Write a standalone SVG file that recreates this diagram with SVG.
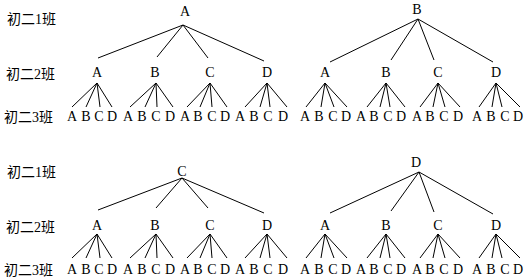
<svg xmlns="http://www.w3.org/2000/svg" width="526" height="279" viewBox="0 0 526 279">
<style>
text{font-family:"Liberation Serif","Noto Sans CJK SC",serif;fill:#000;text-anchor:middle}
.lab{font-size:14px;text-anchor:start}
.n{font-size:14px}
.c line{stroke:#000;stroke-width:1}
</style>
<rect width="526" height="279" fill="#fff"/>
<g id="labels">
<text class="lab" x="7" y="24">初二1班</text>
<text class="lab" x="6" y="79">初二2班</text>
<text class="lab" x="4" y="122">初二3班</text>
<text class="lab" x="7" y="177">初二1班</text>
<text class="lab" x="6" y="232">初二2班</text>
<text class="lab" x="4" y="275">初二3班</text>
</g>
<g class="c" id="connectors">
<line x1="183" y1="25" x2="98" y2="58"/><line x1="183" y1="25" x2="157" y2="57"/><line x1="183" y1="25" x2="208" y2="58"/><line x1="183" y1="25" x2="264" y2="61"/>
<line x1="97" y1="83" x2="72" y2="107"/><line x1="97" y1="83" x2="86" y2="107"/><line x1="97" y1="83" x2="100" y2="107"/><line x1="97" y1="83" x2="112" y2="107"/>
<line x1="156" y1="83" x2="130" y2="107"/><line x1="156" y1="83" x2="145" y2="107"/><line x1="156" y1="83" x2="157" y2="107"/><line x1="156" y1="83" x2="173" y2="107"/>
<line x1="210" y1="83" x2="187" y2="107"/><line x1="210" y1="83" x2="200" y2="107"/><line x1="210" y1="83" x2="212" y2="107"/><line x1="210" y1="83" x2="227" y2="107"/>
<line x1="267" y1="83" x2="245" y2="107"/><line x1="267" y1="83" x2="260" y2="107"/><line x1="267" y1="83" x2="270" y2="107"/><line x1="267" y1="83" x2="287" y2="107"/>
<line x1="418" y1="19" x2="330" y2="62"/><line x1="418" y1="19" x2="391" y2="60"/><line x1="418" y1="19" x2="434" y2="60"/><line x1="418" y1="19" x2="493" y2="62"/>
<line x1="325" y1="83" x2="306" y2="107"/><line x1="325" y1="83" x2="321" y2="107"/><line x1="325" y1="83" x2="334" y2="107"/><line x1="325" y1="83" x2="347" y2="107"/>
<line x1="386" y1="83" x2="367" y2="107"/><line x1="386" y1="83" x2="380" y2="107"/><line x1="386" y1="83" x2="390" y2="107"/><line x1="386" y1="83" x2="405" y2="107"/>
<line x1="438" y1="83" x2="420" y2="107"/><line x1="438" y1="83" x2="433" y2="107"/><line x1="438" y1="83" x2="445" y2="107"/><line x1="438" y1="83" x2="460" y2="107"/>
<line x1="496" y1="83" x2="479" y2="107"/><line x1="496" y1="83" x2="492" y2="107"/><line x1="496" y1="83" x2="502" y2="107"/><line x1="496" y1="83" x2="520" y2="107"/>
<line x1="182" y1="178" x2="98" y2="210"/><line x1="182" y1="178" x2="156" y2="208"/><line x1="182" y1="178" x2="208" y2="208"/><line x1="182" y1="178" x2="264" y2="213"/>
<line x1="97" y1="234" x2="72" y2="258"/><line x1="97" y1="234" x2="86" y2="258"/><line x1="97" y1="234" x2="100" y2="258"/><line x1="97" y1="234" x2="112" y2="258"/>
<line x1="156" y1="234" x2="130" y2="258"/><line x1="156" y1="234" x2="145" y2="258"/><line x1="156" y1="234" x2="157" y2="258"/><line x1="156" y1="234" x2="173" y2="258"/>
<line x1="210" y1="234" x2="187" y2="258"/><line x1="210" y1="234" x2="200" y2="258"/><line x1="210" y1="234" x2="212" y2="258"/><line x1="210" y1="234" x2="227" y2="258"/>
<line x1="267" y1="234" x2="245" y2="258"/><line x1="267" y1="234" x2="260" y2="258"/><line x1="267" y1="234" x2="270" y2="258"/><line x1="267" y1="234" x2="287" y2="258"/>
<line x1="419" y1="172" x2="330" y2="213"/><line x1="419" y1="172" x2="391" y2="211"/><line x1="419" y1="172" x2="434" y2="212"/><line x1="419" y1="172" x2="493" y2="214"/>
<line x1="325" y1="234" x2="306" y2="258"/><line x1="325" y1="234" x2="321" y2="258"/><line x1="325" y1="234" x2="334" y2="258"/><line x1="325" y1="234" x2="347" y2="258"/>
<line x1="386" y1="234" x2="367" y2="258"/><line x1="386" y1="234" x2="380" y2="258"/><line x1="386" y1="234" x2="390" y2="258"/><line x1="386" y1="234" x2="405" y2="258"/>
<line x1="438" y1="234" x2="420" y2="258"/><line x1="438" y1="234" x2="433" y2="258"/><line x1="438" y1="234" x2="445" y2="258"/><line x1="438" y1="234" x2="460" y2="258"/>
<line x1="496" y1="234" x2="479" y2="258"/><line x1="496" y1="234" x2="492" y2="258"/><line x1="496" y1="234" x2="502" y2="258"/><line x1="496" y1="234" x2="520" y2="258"/>
</g>
<g class="n">
<g id="t1-root"><text x="185" y="16">A</text></g>
<g id="t1-A"><text x="97" y="77">A</text></g>
<g id="t1-B"><text x="155" y="77">B</text></g>
<g id="t1-C"><text x="210" y="77">C</text></g>
<g id="t1-D"><text x="267" y="77">D</text></g>
<g id="t1-leaves">
<text x="72" y="121">A</text><text x="86" y="121">B</text><text x="99" y="121">C</text><text x="112" y="121">D</text>
<text x="128" y="121">A</text><text x="142" y="121">B</text><text x="156" y="121">C</text><text x="170" y="121">D</text>
<text x="185" y="121">A</text><text x="198" y="121">B</text><text x="212" y="121">C</text><text x="225" y="121">D</text>
<text x="240" y="121">A</text><text x="254" y="121">B</text><text x="268" y="121">C</text><text x="283" y="121">D</text>
</g>
<g id="t2-root"><text x="417" y="14">B</text></g>
<g id="t2-A"><text x="325" y="77">A</text></g>
<g id="t2-B"><text x="386" y="77">B</text></g>
<g id="t2-C"><text x="438" y="77">C</text></g>
<g id="t2-D"><text x="496" y="77">D</text></g>
<g id="t2-leaves">
<text x="305" y="121">A</text><text x="319" y="121">B</text><text x="333" y="121">C</text><text x="346" y="121">D</text>
<text x="361" y="121">A</text><text x="374" y="121">B</text><text x="388" y="121">C</text><text x="401" y="121">D</text>
<text x="417" y="121">A</text><text x="430" y="121">B</text><text x="444" y="121">C</text><text x="458" y="121">D</text>
<text x="477" y="121">A</text><text x="491" y="121">B</text><text x="505" y="121">C</text><text x="518" y="121">D</text>
</g>
<g id="t3-root"><text x="182" y="176">C</text></g>
<g id="t3-A"><text x="97" y="230">A</text></g>
<g id="t3-B"><text x="155" y="230">B</text></g>
<g id="t3-C"><text x="210" y="230">C</text></g>
<g id="t3-D"><text x="267" y="230">D</text></g>
<g id="t3-leaves">
<text x="72" y="274">A</text><text x="86" y="274">B</text><text x="99" y="274">C</text><text x="112" y="274">D</text>
<text x="128" y="274">A</text><text x="142" y="274">B</text><text x="156" y="274">C</text><text x="170" y="274">D</text>
<text x="185" y="274">A</text><text x="198" y="274">B</text><text x="212" y="274">C</text><text x="225" y="274">D</text>
<text x="240" y="274">A</text><text x="254" y="274">B</text><text x="268" y="274">C</text><text x="283" y="274">D</text>
</g>
<g id="t4-root"><text x="416" y="167">D</text></g>
<g id="t4-A"><text x="325" y="230">A</text></g>
<g id="t4-B"><text x="386" y="230">B</text></g>
<g id="t4-C"><text x="438" y="230">C</text></g>
<g id="t4-D"><text x="496" y="230">D</text></g>
<g id="t4-leaves">
<text x="305" y="274">A</text><text x="319" y="274">B</text><text x="333" y="274">C</text><text x="346" y="274">D</text>
<text x="361" y="274">A</text><text x="374" y="274">B</text><text x="388" y="274">C</text><text x="401" y="274">D</text>
<text x="417" y="274">A</text><text x="430" y="274">B</text><text x="444" y="274">C</text><text x="458" y="274">D</text>
<text x="477" y="274">A</text><text x="491" y="274">B</text><text x="505" y="274">C</text><text x="518" y="274">D</text>
</g>
</g>
</svg>
